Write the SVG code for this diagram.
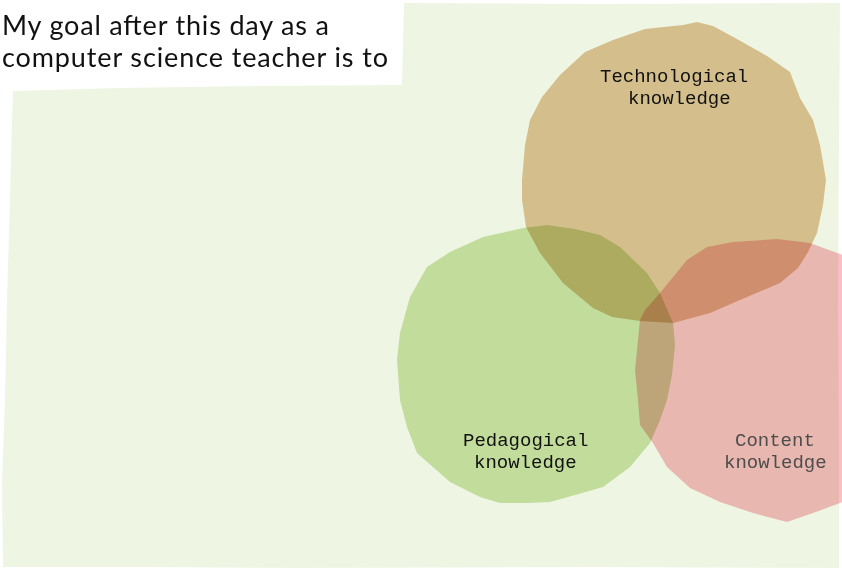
<svg xmlns="http://www.w3.org/2000/svg" width="842" height="570" viewBox="0 0 842 570">
<style>
.blob{mix-blend-mode:multiply}
.head{font-family:Lato,"Liberation Sans",sans-serif;font-size:27px;fill:#111}
.lbl{font-family:"Liberation Mono","DejaVu Sans Mono",monospace;font-size:19px;fill:#111}
.grey{fill:#4d4d4d}
</style>
<rect width="842" height="570" fill="#ffffff"/>
<g id="background">
<path d="M13,91 L120,88 L260,86 L402,85 L403,40 L404,3 L600,4 L840,3 L839,150 L838,300 L839,450 L839,568 L600,567 L300,568 L150,567 L3,567 L2,480 L5,400 L7,300 L10,200 L12,120 Z" fill="#eef6e3"/>
</g>
<g id="technological">
<path class="blob" fill="#e4c69d" d="M697,22 L713,26 L737,39 L767,56 L790,72 L800,98 L813,120 L820,145 L826,180 L823,205 L817,233 L808,252 L798,268 L780,283 L740,300 L710,313 L673,323 L640,321 L612,317 L593,308 L563,283 L540,253 L526,227 L522,200 L522,180 L525,145 L530,120 L542,97 L560,75 L585,52 L613,40 L645,29 L683,25 Z"/>
</g>
<g id="pedagogical">
<path class="blob" fill="#d0e4af" d="M547,225 L575,229 L600,235 L620,247 L647,273 L660,293 L673,323 L675,345 L672,375 L667,400 L660,420 L650,443 L630,467 L603,487 L575,495 L550,502 L527,503 L500,503 L480,497 L450,482 L417,453 L407,427 L400,400 L397,360 L400,333 L410,297 L427,267 L450,252 L483,237 L523,228 Z"/>
</g>
<g id="content">
<path class="blob" fill="#f9bec6" d="M707,247 L733,242 L777,239 L810,243 L843,255 L860,270 L860,490 L843,502 L813,513 L787,522 L753,513 L720,502 L690,488 L667,467 L653,443 L640,425 L638,400 L635,370 L638,340 L640,320 L645,310 L660,293 L687,260 Z"/>
</g>
<g id="connectors"></g>
<g id="title">
<text class="head" x="2" y="35" textLength="327" lengthAdjust="spacing">My goal after this day as a</text>
<text class="head" x="2" y="67" textLength="386" lengthAdjust="spacing">computer science teacher is to</text>
</g>
<g id="labels">
<text class="lbl" x="600" y="82">Technological</text>
<text class="lbl" x="628" y="104">knowledge</text>
<text class="lbl" x="463" y="446">Pedagogical</text>
<text class="lbl" x="474" y="468">knowledge</text>
<text class="lbl grey" x="735" y="446">Content</text>
<text class="lbl grey" x="724" y="468">knowledge</text>
</g>
</svg>
